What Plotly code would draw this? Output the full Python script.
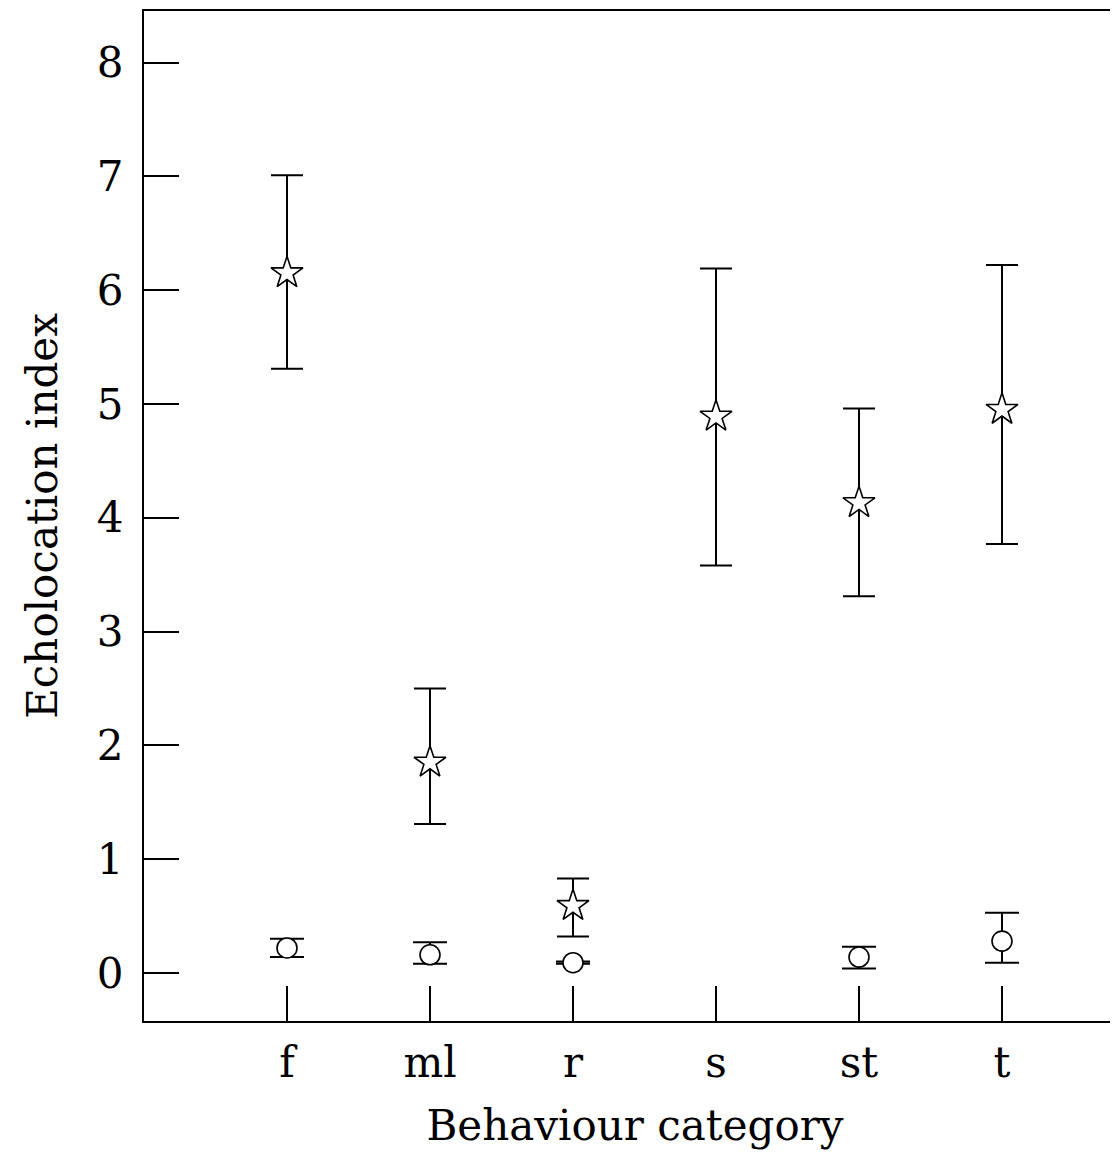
import plotly.graph_objects as go

categories = ["f", "ml", "r", "s", "st", "t"]
positions = [1, 2, 3, 4, 5, 6]

# Star series (mean, upper, lower)
star_mean = [6.15, 1.85, 0.59, 4.89, 4.13, 4.95]
star_upper = [7.01, 2.50, 0.83, 6.19, 4.96, 6.22]
star_lower = [5.31, 1.31, 0.32, 3.58, 3.31, 3.77]

# Circle series (no value for "s")
circ_pos = [1, 2, 3, 5, 6]
circ_mean = [0.22, 0.16, 0.09, 0.14, 0.28]
circ_upper = [0.30, 0.27, 0.10, 0.23, 0.53]
circ_lower = [0.14, 0.08, 0.08, 0.04, 0.09]

y_ticks = [0, 1, 2, 3, 4, 5, 6, 7, 8]

font_family = "DejaVu Serif, Liberation Serif, serif"

fig = go.Figure()

fig.add_trace(go.Scatter(
    x=circ_pos, y=circ_mean, mode="markers",
    marker=dict(symbol="circle", size=20, color="white",
                line=dict(color="black", width=1.6)),
    error_y=dict(type="data", symmetric=False,
                 array=[u - m for u, m in zip(circ_upper, circ_mean)],
                 arrayminus=[m - l for m, l in zip(circ_mean, circ_lower)],
                 color="black", thickness=2, width=17),
    showlegend=False,
))

fig.add_trace(go.Scatter(
    x=positions, y=star_mean, mode="markers",
    marker=dict(symbol="star", size=24, color="white",
                line=dict(color="black", width=1.6)),
    error_y=dict(type="data", symmetric=False,
                 array=[u - m for u, m in zip(star_upper, star_mean)],
                 arrayminus=[m - l for m, l in zip(star_mean, star_lower)],
                 color="black", thickness=2, width=16),
    showlegend=False,
))

fig.update_layout(
    width=1118, height=1156,
    margin=dict(l=136, r=0, t=3, b=143),
    plot_bgcolor="white", paper_bgcolor="white",
    font=dict(family=font_family, color="black"),
)

fig.update_xaxes(
    range=[0, 982 / 143],
    tickvals=positions, ticktext=categories,
    ticks="inside", ticklen=35, tickwidth=2, tickcolor="black",
    showline=True, linecolor="black", linewidth=2, mirror=True,
    showgrid=False, zeroline=False,
    tickfont=dict(size=42, family=font_family),
    ticklabelstandoff=4,
    title=dict(text="Behaviour category", font=dict(size=42, family=font_family), standoff=24),
)

fig.update_yaxes(
    range=[-0.422, 8.453],
    tickvals=y_ticks,
    ticks="inside", ticklen=35, tickwidth=2, tickcolor="black",
    showline=True, linecolor="black", linewidth=2, mirror=False,
    showgrid=False, zeroline=False,
    tickfont=dict(size=42, family=font_family),
    ticklabelstandoff=10,
    title=dict(text="Echolocation index", font=dict(size=42, family=font_family), standoff=26),
)

fig.write_html("out.html")
